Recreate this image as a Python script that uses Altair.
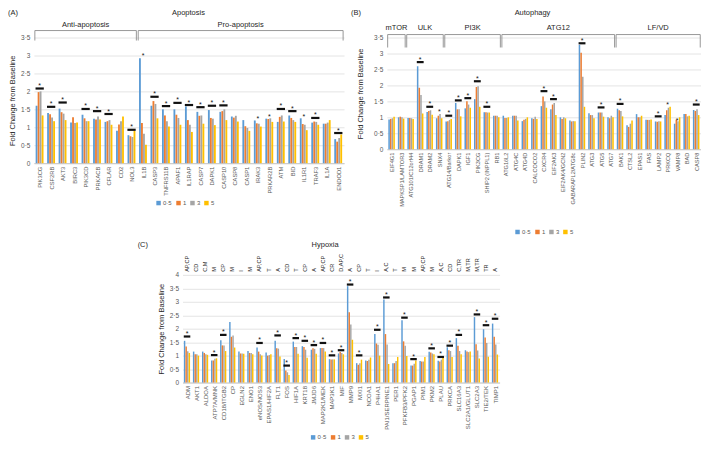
import altair as alt
import pandas as pd

FONT = "Liberation Sans"
SERIES = ["0·5", "1", "3", "5"]
COLORS = ["#5B9BD5", "#ED7D31", "#A5A5A5", "#FFC000"]

# ---------------- (A) Apoptosis ----------------
genes_A = ["PIK3CG", "CSF2RB", "AKT3", "BIRC3", "PIK3CD", "PRKACB", "CFLAR", "CD2", "NOL3",
           "IL1B", "CASP3", "TNFRS11B", "APAF1", "IL1RAP", "CASP7", "DAPK1", "CASP10", "CASP8",
           "CASP1", "IRAK3", "PRKAR2B", "ATM", "BID", "IL1R1", "TRAF3", "IL1A", "ENDOD1"]
A_05 = [1.60, 1.40, 1.52, 1.13, 1.35, 1.24, 1.15, 0.90, 0.78, 2.92, 1.60, 1.50, 1.50, 1.58, 1.43, 1.48, 1.43, 1.30,
        1.20, 1.19, 1.24, 1.15, 1.33, 1.25, 1.13, 1.10, 0.67]
A_1 = [1.98, 1.36, 1.42, 1.28, 1.25, 1.22, 1.17, 1.08, 0.75, 1.12, 1.73, 1.33, 1.35, 1.20, 1.32, 1.26, 1.45, 1.27,
       1.03, 1.11, 1.23, 1.29, 1.26, 1.09, 1.16, 1.10, 0.60]
A_3 = [2.00, 1.27, 1.38, 1.12, 1.17, 1.30, 1.20, 1.17, 0.73, 0.82, 1.65, 1.17, 1.26, 1.07, 1.33, 1.24, 1.50, 1.32,
       0.98, 1.10, 1.25, 1.33, 1.20, 1.07, 1.15, 1.13, 0.70]
A_5 = [1.33, 1.17, 1.20, 1.13, 1.17, 1.22, 1.07, 1.30, 0.90, 0.51, 1.25, 1.02, 1.07, 0.87, 1.10, 1.06, 1.20, 1.16,
       0.90, 1.02, 1.15, 1.16, 1.15, 0.92, 1.07, 1.20, 0.80]
sig_A_genes = ["PIK3CG", "CSF2RB", "AKT3", "PIK3CD", "PRKACB", "CFLAR", "NOL3", "CASP3", "TNFRS11B", "APAF1",
               "IL1RAP", "CASP7", "DAPK1", "CASP10", "ATM", "BID", "TRAF3", "ENDOD1"]
sig_A_level = [2.08, 1.57, 1.69, 1.51, 1.45, 1.37, 0.93, 1.85, 1.59, 1.68, 1.62, 1.56, 1.60, 1.61, 1.51, 1.45,
               1.26, 0.84]
star_A_genes = ["IL1B", "IRAK3", "PRKAR2B", "IL1R1"]
star_A_level = [3.04, 1.28, 1.35, 1.35]
groups_A = ["Anti-apoptosis", "Pro-apoptosis"]
groups_A_first = ["PIK3CG", "IL1B"]
groups_A_last = ["NOL3", "ENDOD1"]

# ---------------- (B) Autophagy ----------------
genes_B = ["EIF4G1", "MAPKSP1/LAMTOR3", "ATG101/C12orf44", "DRAM1", "DRAM2", "SNX4", "ATG14/Barkor", "DAPK1",
           "IGF1", "PIK3CG", "SHIP2 (INPPL1)", "RB1", "ATG16L2", "ATG4C", "ATG4D", "CALCOCO2", "CXCR4",
           "EIF2AK3", "EIF2AK4/GCN2", "GABARAPL2/ATG8c", "PLIN2", "ATG3", "ATG5", "ATG7", "BAK1", "CTSL2",
           "EPAS1", "FAS", "LAMP2", "PRKCQ", "VAMP8", "BAD", "CASP8"]
B_05 = [0.93, 1.00, 0.98, 2.60, 1.17, 0.97, 0.87, 1.45, 1.28, 1.57, 1.16, 1.05, 1.05, 1.05, 0.88, 0.97, 1.35,
        1.25, 1.00, 0.90, 3.27, 1.13, 1.15, 1.00, 1.27, 0.75, 1.10, 0.92, 0.87, 1.07, 0.80, 1.10, 1.23]
B_1 = [0.95, 1.02, 0.98, 1.93, 1.20, 1.05, 0.88, 1.25, 1.50, 1.95, 1.16, 1.05, 0.98, 1.05, 0.92, 0.95, 1.65,
       1.40, 0.95, 0.87, 3.02, 1.07, 1.15, 0.97, 1.22, 0.70, 1.00, 0.92, 0.86, 1.22, 0.92, 1.10, 1.20]
B_3 = [0.97, 1.00, 0.97, 1.70, 1.22, 1.10, 0.92, 1.25, 1.40, 1.97, 1.15, 1.05, 0.98, 1.05, 0.95, 1.02, 1.50,
       1.45, 1.00, 0.88, 2.27, 1.07, 1.15, 1.05, 1.20, 0.80, 1.00, 0.92, 0.88, 1.30, 0.88, 1.03, 1.25]
B_5 = [1.02, 0.96, 0.95, 1.12, 1.08, 0.97, 0.95, 1.03, 1.30, 1.33, 1.15, 1.00, 1.00, 0.90, 1.00, 0.95, 1.30,
       1.07, 0.97, 0.88, 1.33, 0.97, 1.02, 1.00, 1.03, 0.90, 1.05, 0.93, 0.87, 1.33, 1.00, 1.05, 1.07]
sig_B_genes = ["DRAM1", "DRAM2", "ATG14/Barkor", "DAPK1", "IGF1", "PIK3CG", "SHIP2 (INPPL1)", "CXCR4",
               "EIF2AK3", "PLIN2", "ATG5", "BAK1", "LAMP2", "CASP8"]
sig_B_level = [2.73, 1.33, 1.05, 1.53, 1.60, 2.13, 1.33, 1.82, 1.57, 3.32, 1.31, 1.42, 1.03, 1.40]
star_B_genes = ["SNX4", "PRKCQ", "VAMP8"]
star_B_level = [1.22, 1.45, 0.95]
groups_B = ["mTOR", "ULK", "PI3K", "ATG12", "LF/VD"]
groups_B_first = ["EIF4G1", "ATG101/C12orf44", "ATG14/Barkor", "ATG16L2", "BAK1"]
groups_B_last = ["MAPKSP1/LAMTOR3", "SNX4", "RB1", "ATG7", "CASP8"]

# ---------------- (C) Hypoxia ----------------
genes_C = ["ADM", "AKT1", "ALDOA", "ATP7A/MNK", "CD18/ITGB2", "CP", "EGLN2", "ENO1", "eNOS/NOS3", "EPAS1/HIF2A",
           "FLT1", "FOS", "HIF1A", "KRT18", "JMJD6", "MAP2K1/MEK", "MAP3K1", "MIF", "MMP9", "MXI1", "NCOA1",
           "P4HA1", "PAI1/SERPINE1", "PER1", "PFKFB3/PFK2", "PGAP1", "PIM1", "PKM2", "PLAU", "PRKCA", "SLC16A3",
           "SLC2A1/GLUT1", "SLC2A3", "TIE2/TEK", "TIMP1"]
roles_C = ["AP,CP", "CD", "C,M", "M", "CP", "M", "I", "M", "AP,CP", "T", "A", "CD", "T", "CP", "A", "AP,CP", "CR",
           "D,AP,C", "A", "CP", "T", "I", "A,C", "T", "M", "M", "AP,CP", "M", "A,C", "CD", "C,TR", "M,TR", "M,TR",
           "TR", "A"]
C_05 = [1.55, 1.15, 1.15, 0.82, 1.57, 2.25, 1.15, 1.17, 1.30, 1.12, 1.55, 0.87, 1.52, 1.35, 1.22, 1.28, 0.87, 1.08,
        3.58, 0.72, 0.82, 1.80, 3.08, 0.72, 2.31, 0.63, 0.80, 1.14, 0.81, 1.31, 1.65, 1.20, 2.43, 1.98, 2.19]
C_1 = [1.34, 1.05, 1.10, 0.82, 1.38, 1.70, 1.08, 1.10, 1.15, 1.00, 1.27, 0.45, 1.32, 1.32, 1.27, 1.28, 0.86, 1.13,
       2.61, 0.66, 0.80, 1.45, 1.80, 0.72, 1.53, 0.63, 0.78, 1.12, 0.78, 1.20, 1.37, 1.15, 1.42, 1.67, 1.70]
C_3 = [1.16, 1.05, 1.05, 0.88, 1.38, 1.75, 1.08, 1.10, 1.05, 1.02, 1.26, 0.38, 1.32, 1.22, 1.25, 1.28, 0.86, 1.10,
       2.16, 0.72, 0.85, 1.40, 1.41, 0.80, 1.37, 0.70, 0.78, 1.08, 0.85, 1.17, 1.17, 1.13, 1.19, 1.47, 1.41]
C_5 = [1.10, 1.00, 1.03, 0.90, 1.17, 1.30, 1.07, 1.05, 1.00, 1.05, 0.97, 0.28, 1.07, 0.92, 1.07, 1.15, 0.86, 1.05,
       1.59, 0.85, 0.93, 1.00, 0.69, 0.95, 0.99, 0.82, 0.95, 1.05, 0.92, 0.95, 1.05, 1.15, 0.89, 0.96, 1.04]
sig_C_genes = ["ADM", "ATP7A/MNK", "CD18/ITGB2", "eNOS/NOS3", "FLT1", "FOS", "HIF1A", "KRT18", "JMJD6",
               "MAP2K1/MEK", "MAP3K1", "MIF", "MMP9", "MXI1", "P4HA1", "PAI1/SERPINE1", "PFKFB3/PFK2", "PGAP1",
               "PKM2", "PLAU", "PRKCA", "SLC16A3", "SLC2A3", "TIE2/TEK", "TIMP1"]
sig_C_level = [1.71, 1.02, 1.77, 1.47, 1.75, 0.63, 1.65, 1.55, 1.39, 1.47, 1.01, 1.20, 3.64, 1.01, 1.96, 3.16,
               2.41, 0.87, 1.27, 0.95, 1.37, 1.77, 2.53, 2.13, 2.37]

GRID = "#e4e4e4"
LABEL = "#595959"


def long_table(genes, vals):
    rows = []
    for i, g in enumerate(genes):
        for k, s in enumerate(SERIES):
            rows.append({"gene": g, "i": i, "k": k, "series": s, "value": vals[k][i]})
    return pd.DataFrame(rows)


def gene_label_expr(genes):
    return "[" + ",".join("'" + g + "'" for g in genes) + "][datum.value]"


def panel(genes, vals, sig_genes, sig_level, star_genes, star_level, ymax, W, H,
          letter, title, title_x, letter_x, title_y, legend_x, legend_y, title_pad, xlab_size,
          groups=None, firsts=None, lasts=None, br_top=0, br_bot=0, grp_y=0, roles=None):
    n = len(genes)
    xs = alt.Scale(domain=[-0.5, n - 0.5], nice=False, zero=False)
    ys = alt.Scale(domain=[0, ymax], nice=False, zero=True)
    df = long_table(genes, vals)
    xaxis = alt.Axis(values=list(range(n)), labelExpr=gene_label_expr(genes), labelAngle=270,
                     labelFontSize=xlab_size, labelColor=LABEL, labelFont=FONT, ticks=False, grid=False,
                     domainColor="#c8c8c8", labelOverlap=False, labelFlush=False, labelPadding=3,
                     title=None)
    yvals = [j * 0.5 for j in range(int(round(ymax * 2)) + 1)]
    yaxis = alt.Axis(values=yvals, format=".1~f", labelExpr="replace(datum.label, '.', '·')",
                     grid=True, gridColor=GRID, domain=False, ticks=False, labelFontSize=6.5,
                     labelColor=LABEL, labelFont=FONT, labelPadding=4, labelOverlap=False,
                     title="Fold Change from Baseline", titleFontSize=7.5, titleFontWeight="normal",
                     titleColor="#262626", titleFont=FONT, titlePadding=title_pad)

    def X(f):
        return alt.X(f, scale=xs, axis=xaxis)

    def Y(f):
        return alt.Y(f, scale=ys, axis=yaxis)

    bars = alt.Chart(df).transform_calculate(
        xa="datum.i - 0.35 + datum.k * 0.175",
        xb="datum.i - 0.35 + datum.k * 0.175 + 0.16",
        base="0",
    ).mark_rect().encode(
        x=X("xa:Q"),
        x2="xb:Q",
        y=Y("value:Q"),
        y2="base:Q",
        color=alt.Color("series:N", scale=alt.Scale(domain=SERIES, range=COLORS),
                        legend=alt.Legend(orient="none", legendX=legend_x, legendY=legend_y,
                                          direction="horizontal", title=None, symbolType="square",
                                          symbolSize=20, symbolStrokeWidth=0, labelFontSize=6,
                                          labelFont=FONT, labelColor=LABEL, columnPadding=3,
                                          labelOffset=1.5)),
    )
    layers = [bars]
    sig_df = pd.DataFrame({"i": [genes.index(g) for g in sig_genes], "h": sig_level})
    layers.append(alt.Chart(sig_df).transform_calculate(
        xa="datum.i - 0.36", xb="datum.i + 0.36").mark_rule(color="#111111", strokeWidth=2.2).encode(
        x=X("xa:Q"), x2="xb:Q", y=Y("h:Q")))
    layers.append(alt.Chart(sig_df).mark_text(text="*", fontSize=7, font=FONT, color="#111111",
                                              baseline="alphabetic", dy=-0.5).encode(
        x=X("i:Q"), y=Y("h:Q")))
    if star_genes:
        st_df = pd.DataFrame({"i": [genes.index(g) for g in star_genes], "h": star_level})
        layers.append(alt.Chart(st_df).mark_text(text="*", fontSize=7, font=FONT, color="#111111",
                                                 baseline="middle", dy=2).encode(
            x=X("i:Q"), y=Y("h:Q")))
    if groups:
        gdf = pd.DataFrame({"name": groups, "s": [genes.index(g) for g in firsts],
                            "e": [genes.index(g) for g in lasts]})
        base = alt.Chart(gdf).transform_calculate(xa="datum.s - 0.42", xb="datum.e + 0.42",
                                                  xm="(datum.s + datum.e) / 2")
        layers.append(base.mark_rule(color="#8c8c8c", strokeWidth=0.9).encode(
            x=X("xa:Q"), x2="xb:Q", y=alt.value(br_top)))
        layers.append(base.mark_rule(color="#8c8c8c", strokeWidth=0.9).encode(
            x=X("xa:Q"), y=alt.value(br_top), y2=alt.value(br_bot)))
        layers.append(base.mark_rule(color="#8c8c8c", strokeWidth=0.9).encode(
            x=X("xb:Q"), y=alt.value(br_top), y2=alt.value(br_bot)))
        layers.append(base.mark_text(fontSize=7.5, font=FONT, color="#262626").encode(
            x=X("xm:Q"), y=alt.value(grp_y), text="name:N"))
    if roles:
        rdf = pd.DataFrame({"i": list(range(n)), "role": roles})
        layers.append(alt.Chart(rdf).mark_text(angle=270, align="left", baseline="middle", fontSize=5.6,
                                               font=FONT, color="#262626").encode(
            x=X("i:Q"), y=alt.value(-3), text="role:N"))
    tdf = pd.DataFrame({"t": [title], "l": [letter]})
    layers.append(alt.Chart(tdf).mark_text(fontSize=7.5, font=FONT, color="#262626").encode(
        x=alt.value(title_x), y=alt.value(title_y), text="t:N"))
    layers.append(alt.Chart(tdf).mark_text(fontSize=7.5, font=FONT, color="#262626", align="left").encode(
        x=alt.value(letter_x), y=alt.value(title_y), text="l:N"))
    return alt.layer(*layers).properties(width=W, height=H)


A = panel(genes_A, [A_05, A_1, A_3, A_5], sig_A_genes, sig_A_level, star_A_genes, star_A_level,
          3.5, 311, 126, "(A)", "Apoptosis", 155, -26, -25, 122, 163, 4, 5.8,
          groups=groups_A, firsts=groups_A_first, lasts=groups_A_last, br_top=-7, br_bot=3, grp_y=-13)
B = panel(genes_B, [B_05, B_1, B_3, B_5], sig_B_genes, sig_B_level, star_B_genes, star_B_level,
          3.5, 315, 112, "(B)", "Autophagy", 146, -36, -25, 128, 192, 9, 5.6,
          groups=groups_B, firsts=groups_B_first, lasts=groups_B_last, br_top=-3, br_bot=10, grp_y=-10)
C = panel(genes_C, [C_05, C_1, C_3, C_5], sig_C_genes, sig_C_level, [], [],
          4.0, 318, 108, "(C)", "Hypoxia", 143, -45, -30, 128, 160, 4, 6.0, roles=roles_C)

spacer = alt.Chart(pd.DataFrame({"v": [0]})).mark_point(opacity=0).encode(
    x=alt.value(0), y=alt.value(0)).properties(width=104, height=10)

row1 = alt.hconcat(A, B, spacing=7).resolve_scale(x="independent", y="independent").resolve_legend(color="independent")
row2 = alt.hconcat(spacer, C, spacing=0).resolve_scale(x="independent", y="independent").resolve_legend(color="independent")
chart = alt.vconcat(row1, row2, spacing=6).resolve_scale(x="independent", y="independent").resolve_legend(
    color="independent").properties(padding=0).configure_view(stroke=None)

chart.save("out.html", embed_options={"renderer": "svg", "actions": False})
